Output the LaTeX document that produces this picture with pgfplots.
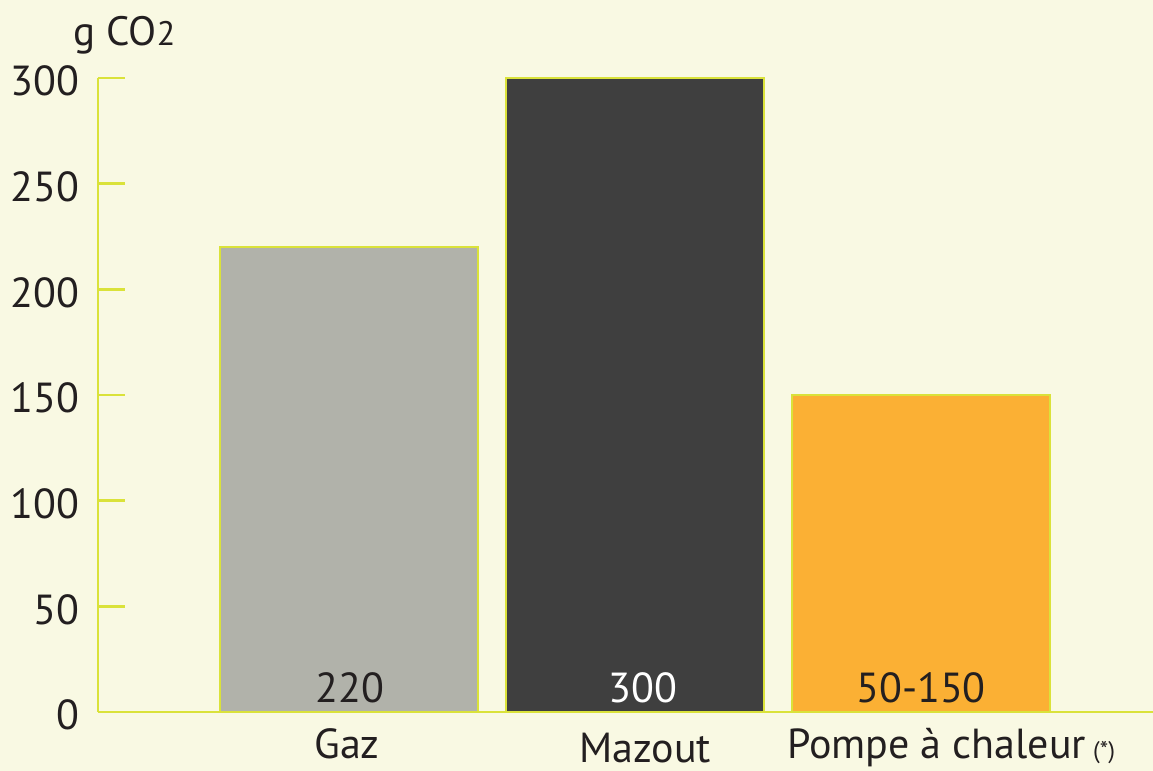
\documentclass[border=0pt]{standalone}
\usepackage{fontspec}
\setmainfont{PT Sans}
\usepackage{pgfplots}
\pgfplotsset{compat=1.18}
\definecolor{bg}{RGB}{249,249,227}
\definecolor{lime}{RGB}{218,226,58}
\definecolor{gazc}{RGB}{177,178,170}
\definecolor{mazc}{RGB}{63,63,63}
\definecolor{pacc}{RGB}{251,176,52}
\definecolor{txt}{RGB}{35,31,32}
\begin{document}
\begin{tikzpicture}
\fill[bg] (-49pt,-29.5pt) rectangle (527.5pt,356pt);
\begin{axis}[
 scale only axis, width=527.5pt, height=317pt,
 xmin=-0.878, xmax=2.811, ymin=0, ymax=300,
 axis lines*=left, axis line style={lime, line width=1.4pt},
 ytick={0,50,...,300}, tick align=inside, major tick length=13.5pt,
 major y tick style={lime, line width=1.4pt},
 major x tick style={draw=none},
 xtick={-0.007,1.035,2.105},
 xticklabels={Gaz, \raisebox{-2.5pt}{Mazout}, Pompe à chaleur\,{\fontsize{12}{14}\selectfont(*)}},
 ybar, bar width=129pt, bar shift=0pt,
 /pgf/number format/assume math mode=true,
 yticklabel style={font=\fontsize{21}{25}\selectfont, text=txt, inner sep=0pt, xshift=-9pt, yshift=-1.5pt},
 xticklabel style={font=\fontsize{21}{25}\selectfont, text=txt, anchor=base, inner sep=0pt, yshift=-9.5pt},
 clip=false,
]
\addplot[fill=gazc, draw=lime, line width=1.2pt] coordinates {(0,220)};
\addplot[fill=mazc, draw=lime, line width=1.2pt] coordinates {(1,300)};
\addplot[fill=pacc, draw=lime, line width=1.2pt] coordinates {(2,150)};
\node[anchor=base, font=\fontsize{21}{25}\selectfont, text=txt, yshift=4.5pt] at (axis cs:0.003,0) {220};
\node[anchor=base, font=\fontsize{21}{25}\selectfont, text=white, yshift=4.5pt] at (axis cs:1.028,0) {300};
\node[anchor=base, font=\fontsize{21}{25}\selectfont, text=txt, yshift=4.5pt] at (axis cs:2.0,0) {50-150};
\node[anchor=base west, font=\fontsize{20.5}{24}\selectfont, text=txt, inner sep=0pt] at (rel axis cs:-0.0237,1.052) {g CO{\fontsize{17}{20}\selectfont 2}};
\end{axis}
\pgfresetboundingbox
\path (-49pt,-29.5pt) rectangle (527.5pt,356pt);
\end{tikzpicture}
\end{document}
